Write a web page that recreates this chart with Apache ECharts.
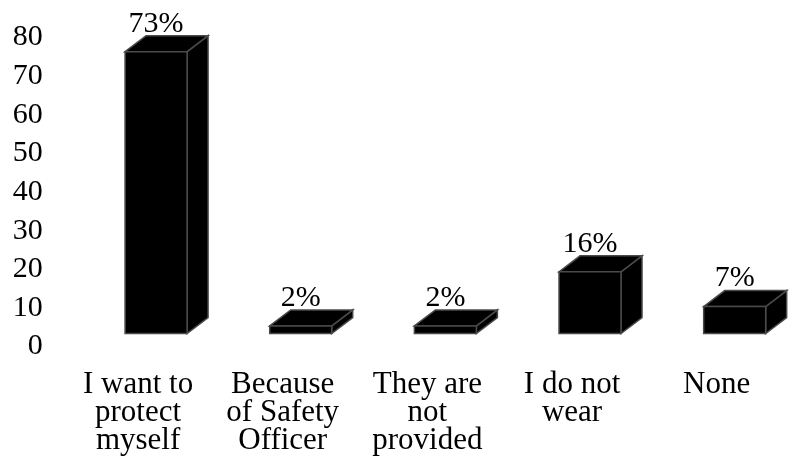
<!DOCTYPE html>
<html>
<head>
<meta charset="utf-8">
<script src="https://cdn.jsdelivr.net/npm/echarts@6/dist/echarts.min.js"></script>
<style>
html,body{margin:0;padding:0;background:#fff;}
#chart{width:789px;height:472px;}
</style>
</head>
<body>
<div id="chart"></div>
<script>
const categories = ['I want to\nprotect\nmyself', 'Because\nof Safety\nOfficer', 'They are\nnot\nprovided', 'I do not\nwear', 'None'];
const values = [73, 2, 2, 16, 7];
const valueLabels = ['73%', '2%', '2%', '16%', '7%'];
const yTicks = [0, 10, 20, 30, 40, 50, 60, 70, 80];

const FONT = '"Liberation Serif", "Times New Roman", serif';
const LIFT = 13, DX = 21, DY = 16, FRONT_W = 62, FRONT_OFF = -13;

const chart = echarts.init(document.getElementById('chart'), null, {renderer: 'canvas'});
chart.setOption({
  animation: false,
  backgroundColor: '#fff',
  grid: {left: 65.75, top: 37.6, width: 737.5, height: 309},
  xAxis: {
    type: 'category',
    data: categories,
    axisLine: {show: false},
    axisTick: {show: false},
    axisLabel: {
      interval: 0, margin: 24, color: '#000',
      fontFamily: FONT, fontSize: 31, lineHeight: 28
    }
  },
  yAxis: {
    type: 'value',
    min: yTicks[0], max: yTicks[yTicks.length - 1], interval: 10,
    axisLine: {show: false},
    axisTick: {show: false},
    splitLine: {show: false},
    axisLabel: {margin: 23, color: '#000', fontFamily: FONT, fontSize: 30}
  },
  series: [{
    type: 'custom',
    clip: false,
    data: values.map((v, i) => [i, v]),
    renderItem: function (params, api) {
      const i = api.value(0), v = api.value(1);
      const c = api.coord([i, 0])[0];
      const yBase = api.coord([i, 0])[1] - LIFT;
      const yTop = api.coord([i, v])[1] - LIFT;
      const x0 = c + FRONT_OFF, x1 = x0 + FRONT_W;
      const stroke = {fill: '#000', stroke: '#4a4a4a', lineWidth: 1.5};
      return {
        type: 'group',
        children: [
          {type: 'polygon', shape: {points: [[x1, yTop], [x1 + DX, yTop - DY], [x1 + DX, yBase - DY], [x1, yBase]]}, style: stroke},
          {type: 'polygon', shape: {points: [[x0, yTop], [x0 + DX, yTop - DY], [x1 + DX, yTop - DY], [x1, yTop]]}, style: stroke},
          {type: 'rect', shape: {x: x0, y: yTop, width: FRONT_W, height: yBase - yTop}, style: stroke},
          {type: 'text', style: {
            text: valueLabels[i], x: (x0 + x1) / 2, y: yTop - DY + 3,
            align: 'center', verticalAlign: 'bottom',
            fill: '#000', font: '30px ' + FONT
          }}
        ]
      };
    }
  }]
});
</script>
</body>
</html>
